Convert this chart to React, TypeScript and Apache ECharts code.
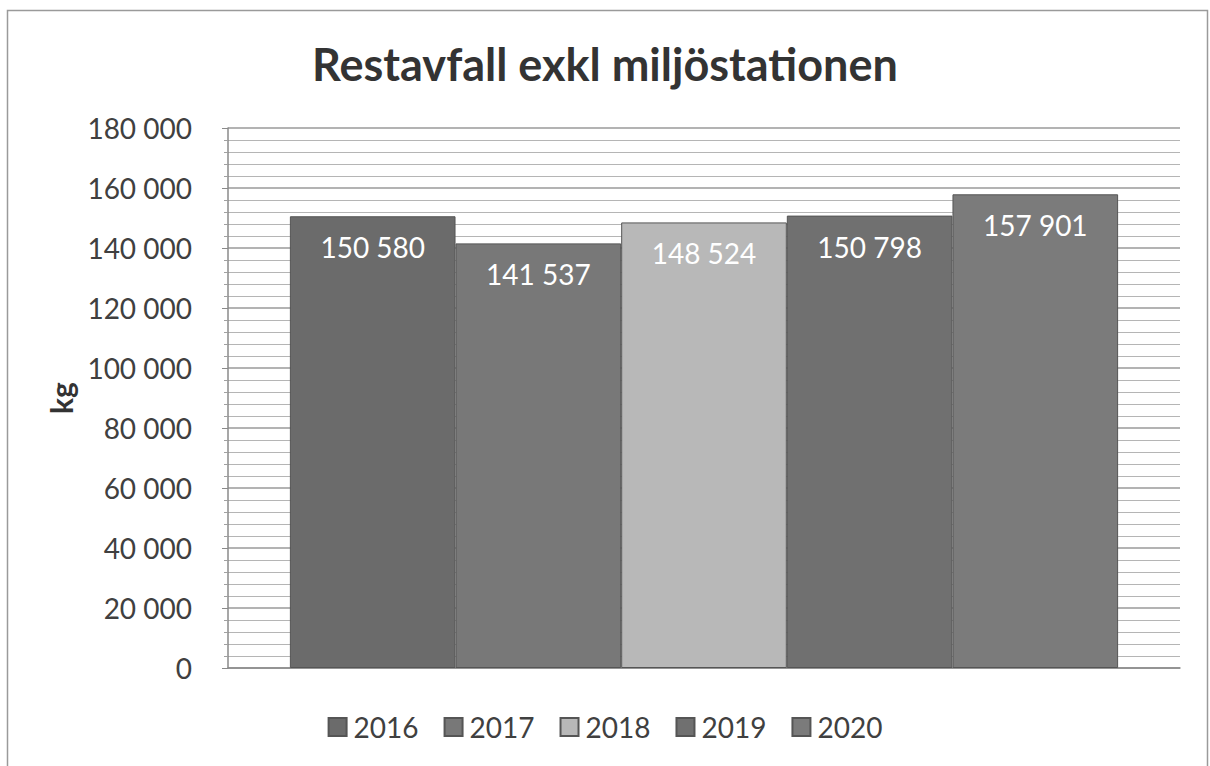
import React, { useEffect, useRef } from "react";
import * as echarts from "echarts";

const years = ["2016", "2017", "2018", "2019", "2020"];
const values = [150580, 141537, 148524, 150798, 157901];
const colors = ["#6b6b6b", "#787878", "#b8b8b8", "#707070", "#7b7b7b"];
const yTicks = { min: 0, max: 180000, interval: 20000 };
const titleText = "Restavfall exkl miljöstationen";
const yName = "kg";

const FONT = "Lato, 'Open Sans', sans-serif";

function fmt(v: number): string {
  return String(Math.round(v)).replace(/\B(?=(\d{3})+(?!\d))/g, " ");
}

export default function App() {
  const ref = useRef<HTMLDivElement>(null);
  useEffect(() => {
    if (!ref.current) return;
    const chart = echarts.init(ref.current, undefined, { renderer: "svg" });
    chart.setOption({
      animation: false,
      backgroundColor: "#ffffff",
      title: {
        text: titleText,
        left: "center",
        top: 36,
        textStyle: { fontFamily: FONT, fontSize: 45, fontWeight: "bold", color: "#333333" },
      },
      graphic: [
        {
          type: "rect",
          shape: { x: 7.5, y: 10.5, width: 1200, height: 760 },
          style: { fill: "none", stroke: "#9a9a9a", lineWidth: 1.5 },
          silent: true,
        },
      ],
      legend: {
        bottom: 20,
        left: "center",
        itemWidth: 18,
        itemHeight: 18,
        itemGap: 25,
        icon: "rect",
        textStyle: { fontFamily: FONT, fontSize: 28, color: "#404040", padding: [0, 0, 0, 2] },
        data: years,
      },
      grid: { left: 228, right: 30, top: 128, bottom: 98 },
      xAxis: {
        type: "category",
        data: [""],
        axisLine: { show: true, lineStyle: { color: "#8a8a8a", width: 1.5 } },
        axisTick: { show: false },
        axisLabel: { show: false },
      },
      yAxis: {
        type: "value",
        min: yTicks.min,
        max: yTicks.max,
        interval: yTicks.interval,
        name: yName,
        nameLocation: "middle",
        nameGap: 152,
        nameRotate: 90,
        nameTextStyle: { fontFamily: FONT, fontSize: 30, fontWeight: "bold", color: "#333333" },
        axisLine: { show: true, lineStyle: { color: "#8a8a8a", width: 1.5 } },
        axisTick: { show: true, length: 6, lineStyle: { color: "#8a8a8a" } },
        minorTick: { show: true, splitNumber: 5, length: 4, lineStyle: { color: "#a0a0a0" } },
        axisLabel: {
          fontFamily: FONT,
          fontSize: 28,
          color: "#404040",
          margin: 36,
          formatter: (v: number) => fmt(v),
        },
        splitLine: { show: true, lineStyle: { color: "#9a9a9a", width: 1.5 } },
        minorSplitLine: { show: true, lineStyle: { color: "#b5b5b5", width: 1 } },
      },
      series: years.map((y, i) => ({
        name: y,
        type: "bar",
        data: [values[i]],
        barGap: "0%",
        barCategoryGap: "13%",
        itemStyle: { color: colors[i], borderColor: "#555555", borderWidth: 1 },
        label: {
          show: true,
          position: "insideTop",
          distance: 17,
          fontFamily: FONT,
          fontSize: 28,
          color: "#ffffff",
          formatter: (p: any) => fmt(p.value),
        },
      })),
    });
    return () => chart.dispose();
  }, []);
  return (
    <div
      ref={ref}
      style={{ position: "absolute", left: 0, top: 0, width: 1210, height: 766 }}
    />
  );
}
